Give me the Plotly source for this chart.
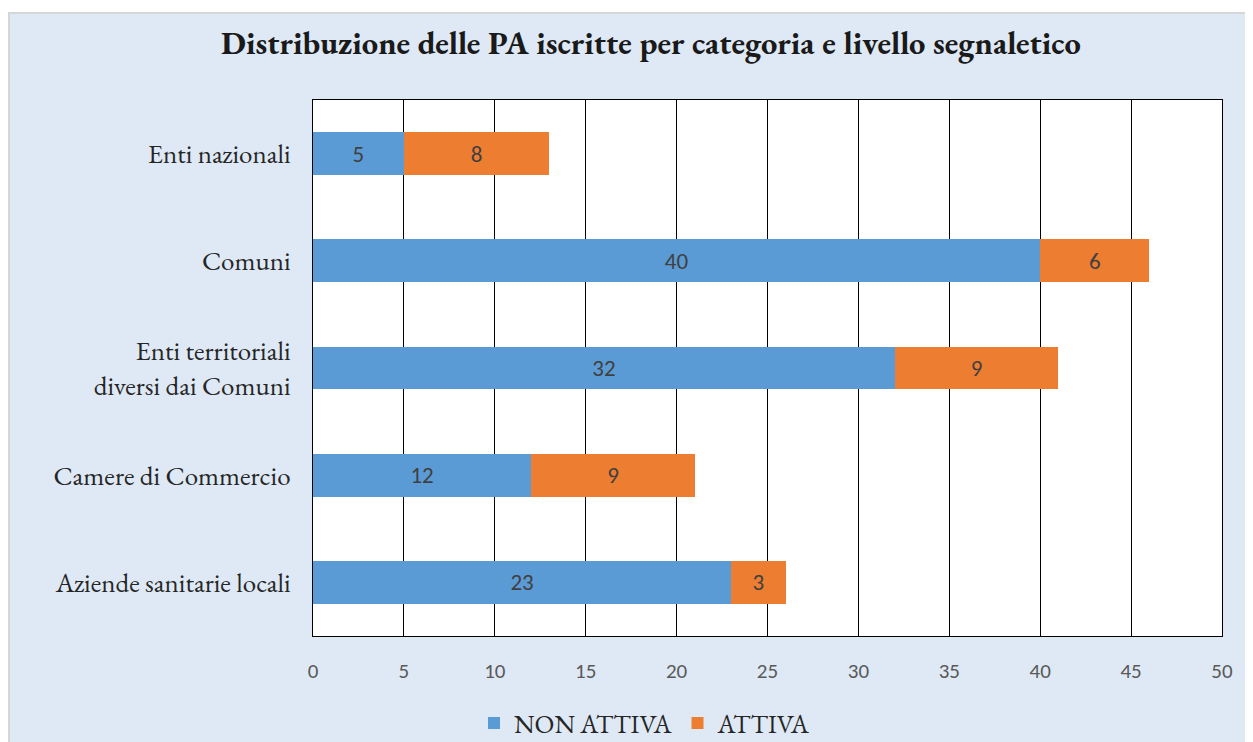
import plotly.graph_objects as go

# categories listed bottom -> top (plotly draws the first category at the bottom)
categories = [
    "Aziende sanitarie locali",
    "Camere di Commercio",
    "Enti territoriali<br>diversi dai Comuni",
    "Comuni",
    "Enti nazionali",
]
non_attiva = [23, 12, 32, 40, 5]
attiva = [3, 9, 9, 6, 8]
x_ticks = [0, 5, 10, 15, 20, 25, 30, 35, 40, 45, 50]

BLUE = "#5B9BD5"
ORANGE = "#ED7D31"
PANEL = "#DEE9F5"
SERIF = "EB Garamond, Garamond, Liberation Serif, serif"
SANS = "Carlito, Calibri, Liberation Sans, sans-serif"

# the page body adds an 8px margin, so work in page pixels and shift
OFF = 8
W, H = 1253 - OFF, 742 - OFF
L, R, T, B = 313 - OFF, 1222 - OFF, 100 - OFF, 636 - OFF
pw, ph = R - L, B - T


def px_x(v):
    return (v - OFF - L) / pw


def px_y(v):
    return (B - (v - OFF)) / ph


fig = go.Figure()
fig.add_trace(go.Bar(
    y=categories, x=non_attiva, orientation="h", name="NON ATTIVA",
    marker=dict(color=BLUE, line=dict(width=0)),
    text=non_attiva, textposition="inside", insidetextanchor="middle",
    textfont=dict(family=SANS, size=23, color="#404040"),
))
fig.add_trace(go.Bar(
    y=categories, x=attiva, orientation="h", name="ATTIVA",
    marker=dict(color=ORANGE, line=dict(width=0)),
    text=attiva, textposition="inside", insidetextanchor="middle",
    textfont=dict(family=SANS, size=23, color="#404040"),
))

shapes = [
    # white strip above the light-blue panel
    dict(type="rect", xref="paper", yref="paper", x0=px_x(0), x1=px_x(1260),
         y0=px_y(13), y1=px_y(0), fillcolor="white", line=dict(width=0)),
    # grey panel border
    dict(type="line", xref="paper", yref="paper", x0=px_x(8), x1=px_x(1260),
         y0=px_y(13), y1=px_y(13), line=dict(color="#D6D6D6", width=2)),
    dict(type="line", xref="paper", yref="paper", x0=px_x(9), x1=px_x(9),
         y0=px_y(13), y1=px_y(750), line=dict(color="#D6D6D6", width=2)),
]

fig.update_layout(
    width=W, height=H,
    margin=dict(l=L, r=W - R, t=T, b=H - B, autoexpand=False),
    paper_bgcolor=PANEL,
    plot_bgcolor="white",
    barmode="stack",
    bargap=0.6,
    shapes=shapes,
    title=dict(
        text="<b>Distribuzione delle PA iscritte per categoria e livello segnaletico</b>",
        font=dict(family=SERIF, size=32.5, color="#1A1A1A"),
        x=(651 - OFF) / W, xanchor="center", xref="container",
        y=1 - (43 - OFF) / H, yanchor="middle", yref="container",
    ),
    xaxis=dict(
        range=[0, 50], tickvals=x_ticks, showgrid=True, gridcolor="#000000",
        gridwidth=1, showline=True, linecolor="#000000", linewidth=1, mirror=True,
        zeroline=False, ticks="", ticklabelstandoff=16,
        tickfont=dict(family=SANS, size=21, color="#595959"),
    ),
    yaxis=dict(
        showgrid=False, showline=True, linecolor="#000000", linewidth=1, mirror=True,
        ticks="", ticklabelstandoff=16,
        tickfont=dict(family=SERIF, size=27, color="#262626"),
    ),
    legend=dict(
        orientation="h", x=px_x(645), xanchor="center", y=px_y(723), yanchor="middle",
        font=dict(family=SERIF, size=26, color="#262626"),
        bgcolor="rgba(0,0,0,0)", traceorder="normal", itemwidth=30,
    ),
    showlegend=True,
    uniformtext=dict(mode="show", minsize=10),
)

fig.write_html("out.html")
